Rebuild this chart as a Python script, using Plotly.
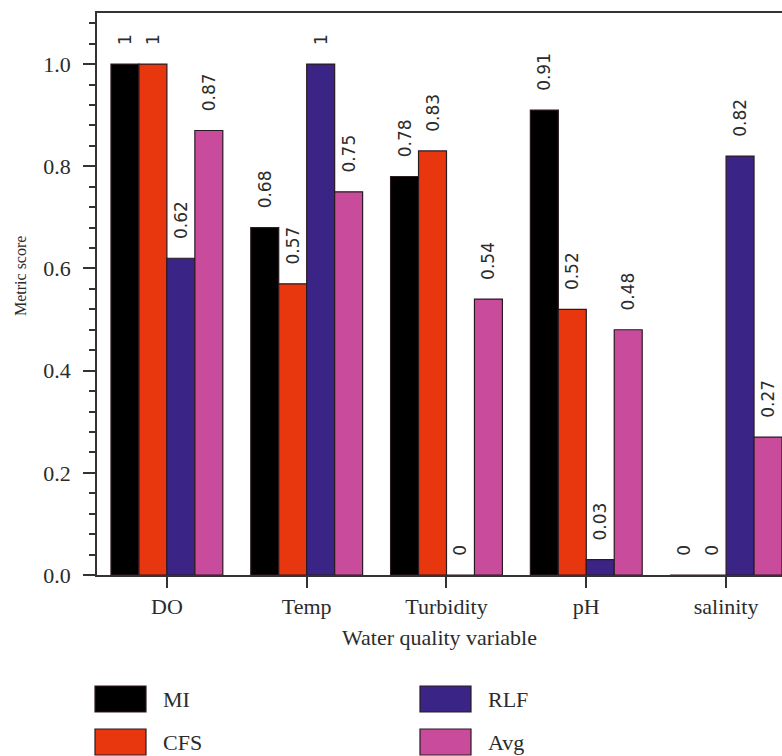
import plotly.graph_objects as go

categories = ["DO", "Temp", "Turbidity", "pH", "salinity"]
series_names = ["MI", "CFS", "RLF", "Avg"]
mi_values = [1, 0.68, 0.78, 0.91, 0]
cfs_values = [1, 0.57, 0.83, 0.52, 0]
rlf_values = [0.62, 1, 0, 0.03, 0.82]
avg_values = [0.87, 0.75, 0.54, 0.48, 0.27]
colors = ["#000000", "#E8360F", "#3A2586", "#C94C9C"]
y_ticks = [0.0, 0.2, 0.4, 0.6, 0.8, 1.0]

all_values = [mi_values, cfs_values, rlf_values, avg_values]
FONT = "Liberation Serif"
LABFONT = "DejaVu Sans"
TXT = "#2b2b2b"

fig = go.Figure()
for name, vals, col in zip(series_names, all_values, colors):
    lab_font = dict(family=LABFONT, size=17, color=TXT)
    fig.add_trace(go.Bar(
        x=categories, y=vals, name=name,
        marker=dict(color=col, line=dict(color="#2a1a22", width=1.2)),
        text=["\u00a0\u00a0\u00a0" + "{:g}".format(v) for v in vals],
        textposition="outside", textangle=-90,
        textfont=lab_font, outsidetextfont=lab_font,
        constraintext="none", cliponaxis=False,
        showlegend=False, hoverinfo="skip",
    ))

W, H = 782, 756
ml, mr, mt, mb = 97, 0, 13, 181
pw, ph = W - ml - mr, H - mt - mb

def px(x):
    return (x - ml) / pw

def py(y):
    return (H - mb - y) / ph

# custom legend (two columns: MI/CFS, RLF/Avg)
legend_pos = [(95, 686), (95, 729), (420, 686), (420, 729)]
shapes = []
annotations = []
for (lx, ly), name, col in zip(legend_pos, series_names, colors):
    shapes.append(dict(type="rect", xref="paper", yref="paper",
                       x0=px(lx), x1=px(lx + 51), y0=py(ly + 26), y1=py(ly),
                       fillcolor=col, line=dict(color="#2a1a22", width=1.2)))
    annotations.append(dict(xref="paper", yref="paper", x=px(lx + 66), y=py(ly + 13),
                            text=name, showarrow=False, xanchor="left", yanchor="middle",
                            font=dict(family=FONT, size=22, color=TXT)))

# y-axis title
annotations.append(dict(xref="paper", yref="paper", x=px(20), y=py(276),
                        text="Metric score", textangle=-90, showarrow=False,
                        xanchor="center", yanchor="middle",
                        font=dict(family=FONT, size=16, color=TXT)))

fig.update_layout(
    width=W, height=H,
    margin=dict(l=ml, r=mr, t=mt, b=mb),
    paper_bgcolor="white", plot_bgcolor="white",
    barmode="group", bargap=0.2, bargroupgap=0,
    shapes=shapes, annotations=annotations,
    font=dict(family=FONT, color=TXT),
    xaxis=dict(
        range=[-0.5, 4.4], showline=True, linecolor="#333", linewidth=1.5, mirror=True,
        ticks="outside", ticklen=11, tickwidth=1.5, tickcolor="#333",
        tickfont=dict(family=FONT, size=22, color=TXT), ticklabelstandoff=0,
        showgrid=False, zeroline=False,
        title=dict(text="Water quality variable", font=dict(family=FONT, size=22, color=TXT), standoff=11),
    ),
    yaxis=dict(
        range=[0, 1.1], showline=True, linecolor="#333", linewidth=1.5, mirror=False,
        tickvals=y_ticks, tickformat=".1f",
        ticks="outside", ticklen=12, tickwidth=1.5, tickcolor="#333",
        minor=dict(dtick=0.04, tick0=0, ticks="outside", ticklen=6, tickwidth=1.5, tickcolor="#333"),
        tickfont=dict(family=FONT, size=22, color=TXT), ticklabelstandoff=8,
        showgrid=False, zeroline=False,
    ),
)

fig.write_html("out.html", config={"displayModeBar": False},
               post_script="document.body.style.margin='0';document.body.style.overflow='hidden';")
